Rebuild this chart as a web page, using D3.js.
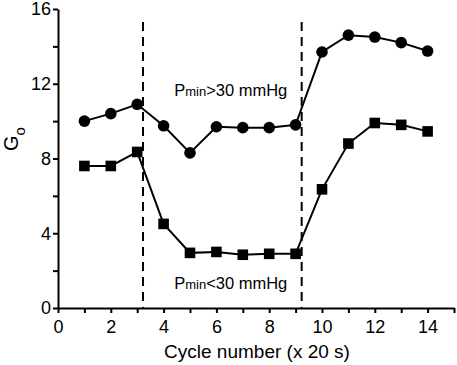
<!DOCTYPE html>
<html><head><meta charset="utf-8">
<script src="https://cdn.jsdelivr.net/npm/d3@7"></script>
<style>body{margin:0;background:#fff}svg{display:block}text{font-family:Arial,"Liberation Sans",sans-serif;fill:#000}</style>
</head><body><svg id="c" width="457" height="365"></svg>
<script>
const cycles = [1,2,3,4,5,6,7,8,9,10,11,12,13,14];
const highP = [10.0,10.4,10.9,9.75,8.3,9.7,9.65,9.65,9.8,13.7,14.6,14.5,14.2,13.75];
const lowP = [7.6,7.6,8.35,4.5,2.95,3.0,2.85,2.9,2.9,6.35,8.8,9.9,9.8,9.45];
const xTicks = [0,2,4,6,8,10,12,14];
const yTicks = [0,4,8,12,16];
const dashedX = [3.22,9.23];
const labels = [{text:"min", pre:"P", post:">30 mmHg", x:4.4, y:11.34},{text:"min", pre:"P", post:"<30 mmHg", x:4.4, y:1.02}];

const svg = d3.select("#c");
const x = d3.scaleLinear().domain([0,15]).range([58,454]);
const y = d3.scaleLinear().domain([0,16]).range([308,9]);

// axes
const xAxis = d3.axisBottom(x).tickValues(d3.range(0,16,1)).tickSize(5).tickSizeOuter(0).tickFormat(d=>xTicks.includes(d)?d:"");
const gx = svg.append("g").attr("transform",`translate(0,${y(0)})`).call(xAxis);
gx.select(".domain").attr("stroke-width",2);
gx.selectAll(".tick line").attr("stroke-width",2);
gx.selectAll(".tick text").attr("font-size",18).attr("dy","0.95em");

const yAxis = d3.axisLeft(y).tickValues(d3.range(0,17,2)).tickSize(5).tickSizeOuter(0).tickFormat(d=>yTicks.includes(d)?d:"");
const gy = svg.append("g").attr("transform",`translate(${x(0)},0)`).call(yAxis);
gy.select(".domain").attr("stroke-width",2);
gy.selectAll(".tick line").attr("stroke-width",2);
gy.selectAll(".tick text").attr("font-size",18).attr("dx","0.05em");

// dashed lines
svg.selectAll(".dash").data(dashedX).join("line")
  .attr("x1",d=>x(d)).attr("x2",d=>x(d)).attr("y1",y(15.3)).attr("y2",y(0))
  .attr("stroke","#000").attr("stroke-width",2).attr("stroke-dasharray","9,6");

const line = d3.line().x((d,i)=>x(cycles[i])).y(d=>y(d));
svg.append("path").attr("d",line(highP)).attr("fill","none").attr("stroke","#000").attr("stroke-width",2);
svg.append("path").attr("d",line(lowP)).attr("fill","none").attr("stroke","#000").attr("stroke-width",2);
svg.selectAll(".c").data(highP).join("circle").attr("cx",(d,i)=>x(cycles[i])).attr("cy",d=>y(d)).attr("r",5.8).attr("fill","#000");
svg.selectAll(".s").data(lowP).join("rect").attr("x",(d,i)=>x(cycles[i])-5.3).attr("y",d=>y(d)-5.3).attr("width",10.6).attr("height",10.6).attr("fill","#000");

// annotations
labels.forEach(l=>{
  const t = svg.append("text").attr("x",x(l.x)).attr("y",y(l.y)).attr("font-size",16.5);
  t.append("tspan").text(l.pre);
  t.append("tspan").attr("font-size",13).text(l.text);
  t.append("tspan").text(l.post);
});

// axis titles
svg.append("text").attr("x",257).attr("y",358).attr("text-anchor","middle").attr("font-size",19).text("Cycle number (x 20 s)");
const yt = svg.append("text").attr("transform","translate(18,139) rotate(-90)").attr("text-anchor","middle").attr("font-size",20);
yt.append("tspan").text("G");
yt.append("tspan").attr("font-size",15).attr("dy",7).text("o");
</script></body></html>
